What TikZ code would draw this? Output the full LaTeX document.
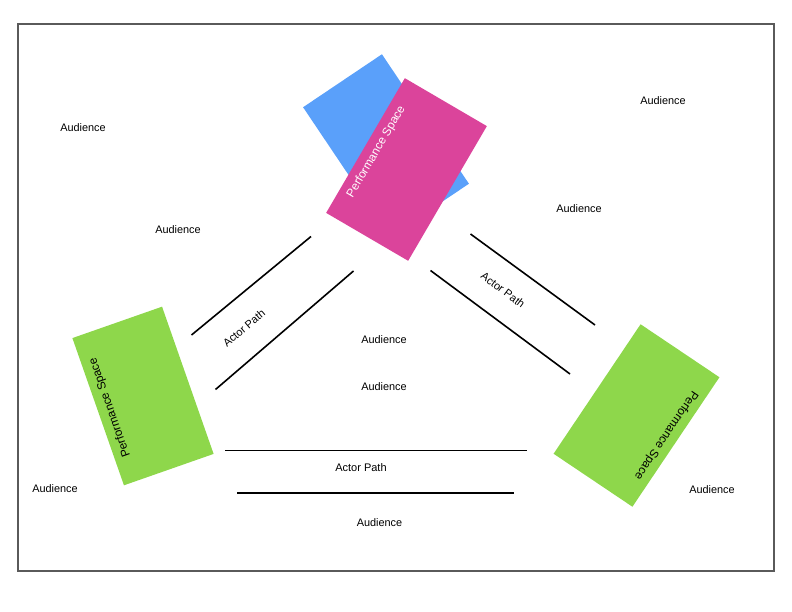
\documentclass[tikz,border=0pt]{standalone}
\usepackage{fontspec}
\setmainfont{Liberation Sans}
\usetikzlibrary{calc}
\definecolor{psblue}{RGB}{90,160,250}
\definecolor{pspink}{RGB}{219,68,155}
\definecolor{psgreen}{RGB}{142,215,75}
\definecolor{framegray}{RGB}{90,90,90}
\begin{document}
\begin{tikzpicture}[x=1pt,y=-1pt,
  space/.style={draw=none,minimum width=95pt,minimum height=156pt,inner sep=0pt},
  aud/.style={font=\fontsize{10.9}{12}\selectfont,inner sep=0pt},
  apath/.style={font=\fontsize{11}{13}\selectfont,inner sep=0pt},
  pslabel/.style={font=\fontsize{11.8}{14}\selectfont,inner sep=0pt},
  wall/.style={line width=1.6pt,black}]
\useasboundingbox (0,0) rectangle (792,612);
\draw[framegray,line width=1.2pt] (18,24) rectangle (774,571);

% top performance spaces
\node[space,fill=psblue,rotate=33.9] (blue) at (386,145.5) {};
\node[space,fill=pspink,rotate=-30.3] (pink) at (406.5,169.5) {};
\node[pslabel,white,rotate=59.7] (pinktext) at ($(pink.center)+(-30.2,-17.6)$) {Performance Space};

% left and right performance spaces
\node[space,fill=psgreen,rotate=19.3] (lgreen) at (143,396) {};
\node[pslabel,rotate=109.3] (lgtext) at (110,407.5) {Performance Space};
\node[space,fill=psgreen,rotate=-33.9] (rgreen) at (636.5,415.5) {};
\node[pslabel,rotate=-123.9] (rgtext) at (666,435) {Performance Space};

% actor paths
\coordinate (la1) at (191.5,335);
\coordinate (la2) at (311,236.5);
\coordinate (lb1) at (215.5,389.5);
\coordinate (lb2) at (353.5,271);
\draw[wall] (la1) -- (la2);
\draw[wall] (lb1) -- (lb2);
\node[apath,rotate=40.5] (lpath) at (244,328) {Actor Path};

\coordinate (ra1) at (470.5,234);
\coordinate (ra2) at (595,325);
\coordinate (rb1) at (430.5,270.5);
\coordinate (rb2) at (570,374);
\draw[wall] (ra1) -- (ra2);
\draw[wall] (rb1) -- (rb2);
\node[apath,rotate=-37] (rpath) at (503,290) {Actor Path};

\coordinate (ba1) at (225,450.5);
\coordinate (ba2) at (527,450.5);
\coordinate (bb1) at (237,493);
\coordinate (bb2) at (514,493);
\draw[wall] (ba1) -- (ba2);
\draw[wall] (bb1) -- (bb2);
\node[apath] (bpath) at (361,468) {Actor Path};

% audience labels
\node[aud] (a1) at (83,127.5) {Audience};
\node[aud] (a2) at (178,230) {Audience};
\node[aud] (a3) at (663,101) {Audience};
\node[aud] (a4) at (579,209) {Audience};
\node[aud] (a5) at (384,340) {Audience};
\node[aud] (a6) at (384,387) {Audience};
\node[aud] (a7) at (55,489) {Audience};
\node[aud] (a8) at (712,490) {Audience};
\node[aud] (a9) at (379.5,523) {Audience};
\end{tikzpicture}
\end{document}
